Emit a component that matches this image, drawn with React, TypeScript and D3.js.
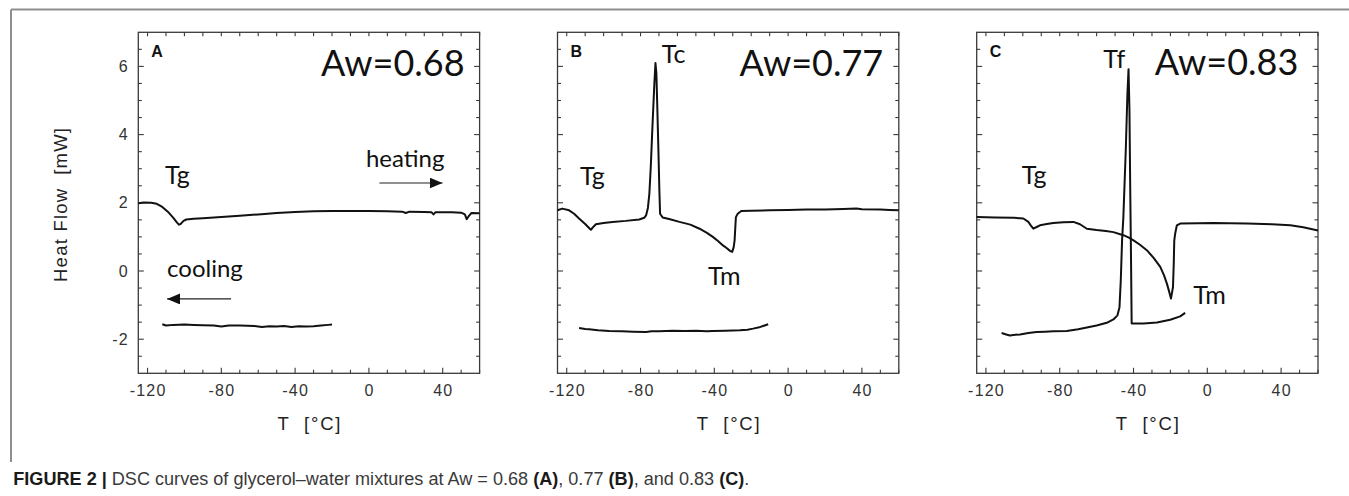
import React from 'react';
import * as d3 from 'd3';

// ---- data (temperature °C, heat flow mW) ----
const panelLetters = ['A', 'B', 'C'];
const awLabels = ['Aw=0.68', 'Aw=0.77', 'Aw=0.83'];
const xTickLabels = [-120, -80, -40, 0, 40];
const yTickLabels = [-2, 0, 2, 4, 6];

const heatingA: [number, number][] = [
  [-125, 1.99], [-122, 2.01], [-118, 2.0], [-115, 1.97], [-112, 1.88], [-109, 1.74],
  [-106, 1.56], [-104, 1.42], [-103, 1.36], [-102, 1.38], [-100.5, 1.47], [-99, 1.51],
  [-95, 1.53], [-90, 1.55], [-80, 1.58], [-70, 1.62], [-60, 1.66], [-50, 1.7],
  [-40, 1.73], [-30, 1.75], [-20, 1.76], [-10, 1.76], [0, 1.76], [10, 1.75],
  [18, 1.74], [20, 1.7], [22, 1.74], [30, 1.73], [34, 1.72], [35, 1.66], [36, 1.72],
  [45, 1.72], [50, 1.71], [52, 1.66], [53, 1.52], [54, 1.6], [55.5, 1.7], [60, 1.69],
];
const coolingA: [number, number][] = [
  [-112, -1.56], [-110, -1.6], [-106, -1.58], [-100, -1.57], [-95, -1.58], [-90, -1.59],
  [-84, -1.6], [-80, -1.63], [-76, -1.6], [-70, -1.6], [-62, -1.61], [-58, -1.64],
  [-54, -1.62], [-50, -1.63], [-46, -1.61], [-42, -1.64], [-38, -1.62], [-34, -1.63],
  [-30, -1.62], [-26, -1.6], [-22, -1.58], [-20, -1.57],
];

const heatingB: [number, number][] = [
  [-125, 1.78], [-122.4, 1.83], [-118.7, 1.78], [-116, 1.68], [-113.3, 1.54], [-110, 1.38],
  [-107.5, 1.24], [-106.9, 1.21], [-105.5, 1.3], [-104.2, 1.37], [-100, 1.41], [-95.2, 1.44],
  [-88, 1.47], [-80.7, 1.51], [-78, 1.56], [-77, 1.63], [-76, 1.85], [-75.2, 2.27],
  [-74.4, 3.1], [-73.7, 4.03], [-72.5, 5.5], [-71.9, 6.1], [-71.4, 5.8], [-71.0, 5.0],
  [-70.3, 3.54], [-69.8, 2.4], [-69.4, 1.68], [-68, 1.57], [-64, 1.52], [-58.9, 1.44],
  [-53, 1.36], [-48, 1.24], [-44, 1.12], [-40.8, 1.0], [-38, 0.88], [-35.3, 0.75],
  [-33, 0.66], [-31.5, 0.59], [-30.3, 0.56], [-29.5, 0.7], [-29, 0.9], [-28.6, 1.3],
  [-28.3, 1.58], [-27.3, 1.68], [-25.4, 1.76], [-20, 1.77], [-10, 1.78], [0, 1.79],
  [10, 1.8], [20, 1.8], [30, 1.82], [37, 1.83], [40, 1.81], [50, 1.8], [55, 1.79], [60, 1.78],
];
const coolingB: [number, number][] = [
  [-113.3, -1.67], [-110, -1.7], [-107.9, -1.71], [-103, -1.74], [-97, -1.76], [-90, -1.77],
  [-84, -1.78], [-77, -1.79], [-74, -1.77], [-70, -1.77], [-62.5, -1.75], [-56, -1.76],
  [-50, -1.75], [-44, -1.77], [-40.8, -1.76], [-34, -1.75], [-26.2, -1.74], [-22, -1.72],
  [-19, -1.69], [-15, -1.64], [-10.8, -1.56],
];

const heatingC: [number, number][] = [
  [-125, 1.58], [-115, 1.57], [-105, 1.56], [-99.7, 1.54], [-97, 1.44], [-95.5, 1.32],
  [-94.3, 1.24], [-92.5, 1.29], [-90.7, 1.34], [-87, 1.38], [-83.5, 1.41], [-78, 1.43],
  [-72.6, 1.44], [-69, 1.37], [-65.3, 1.24], [-60, 1.2], [-55, 1.17], [-50.9, 1.14],
  [-45.5, 1.05], [-42.5, 0.98], [-40, 0.9], [-36.5, 0.77], [-32.8, 0.61], [-29, 0.38],
  [-25.5, 0.12], [-23.5, -0.12], [-21.9, -0.37], [-20.6, -0.62], [-19.7, -0.81],
  [-18.6, -0.47], [-18.2, 0.2], [-17.9, 0.9], [-17.4, 1.1], [-16.5, 1.34], [-14.7, 1.39],
  [-5, 1.4], [3.4, 1.41], [12, 1.4], [21.5, 1.39], [35, 1.37], [45, 1.34], [52, 1.28], [60, 1.19],
];
const coolingC: [number, number][] = [
  [-111.5, -1.82], [-109, -1.86], [-107, -1.89], [-104, -1.87], [-101.5, -1.86], [-97, -1.82],
  [-92.5, -1.79], [-88, -1.78], [-83.5, -1.77], [-76.2, -1.76], [-70, -1.71], [-65.3, -1.66],
  [-60, -1.6], [-54.5, -1.52], [-50.9, -1.42], [-48.7, -1.3], [-47.6, -1.06], [-46.9, -0.27],
  [-46.2, 0.9], [-45.5, 1.58], [-44.2, 3.54], [-43.3, 5.2], [-42.7, 5.92], [-42.2, 4.71],
  [-41.8, 2.5], [-41.4, 0.61], [-41.0, -1.54], [-34.6, -1.54], [-27.3, -1.51], [-20.1, -1.43],
  [-14.7, -1.33], [-12, -1.23],
];

// annotation labels placed in data coordinates: [text, T, mW]
const notesA: [string, number, number][] = [['Tg', -110.5, 2.54]];
const notesB: [string, number, number][] = [['Tg', -112.8, 2.51], ['Tc', -68.5, 6.1], ['Tm', -43.4, -0.42]];
const notesC: [string, number, number][] = [['Tg', -100.6, 2.54], ['Tf', -56.4, 5.94], ['Tm', -7.6, -0.96]];

// direction arrows in panel A
const heatingArrow = { label: 'heating', lt: -1.6, lv: 3.05, from: 5.7, to: 39.9, v: 2.58 };
const coolingArrow = { label: 'cooling', lt: -109.4, lv: -0.18, from: -74.7, to: -109.4, v: -0.82 };

// ---- layout ----
const W = 1349;
const H = 496;
const TOP = 32.3;
const PH = 341;
const PW = 341.3;
const panelLeft = [138.3, 557.5, 976.7];
const awPad = [15, 15.6, 19.7];
const awBase = [43.7, 43.7, 42.7];

const panels = [
  { heating: heatingA, cooling: coolingA, notes: notesA },
  { heating: heatingB, cooling: coolingB, notes: notesB },
  { heating: heatingC, cooling: coolingC, notes: notesC },
];

const annoFont = 'Lato, "Open Sans", "DejaVu Sans", sans-serif';
const axisFont = '"Liberation Sans", Arial, sans-serif';

export default function App() {
  const y = d3.scaleLinear().domain([-3, 7]).range([TOP + PH, TOP]);
  const xMinor = d3.range(-120, 61, 10);
  const yMinor = d3.range(-2.5, 7, 0.5);
  const frameColor = '#3a3a3a';

  return (
    <svg width={W} height={H} style={{ position: 'absolute', left: 0, top: 0, background: '#fff' }}>
      <defs>
        <marker id="arrowHead" markerUnits="userSpaceOnUse" markerWidth={13} markerHeight={11}
          refX={13} refY={5.5} orient="auto">
          <path d="M0,0 L13,5.5 L0,11 z" fill="#111" />
        </marker>
      </defs>

      {/* figure frame */}
      <line x1={11} y1={9.5} x2={W} y2={9.5} stroke="#8e8e8e" strokeWidth={2} />
      <line x1={11} y1={9.5} x2={11} y2={462} stroke="#8e8e8e" strokeWidth={2} />

      {/* y-axis title */}
      <text transform="translate(67,205) rotate(-90)" textAnchor="middle" fontFamily={axisFont}
        fontSize={18.5} fill="#222" textLength={154} lengthAdjust="spacing" style={{ whiteSpace: 'pre' }}>
        Heat Flow  [mW]
      </text>

      {panels.map((p, i) => {
        const x0 = panelLeft[i];
        const x = d3.scaleLinear().domain([-125, 60]).range([x0, x0 + PW]);
        const line = d3.line<[number, number]>().x((d) => x(d[0])).y((d) => y(d[1]));
        const bottom = TOP + PH;
        const right = x0 + PW;
        return (
          <g key={i}>
            {/* frame */}
            <rect x={x0} y={TOP} width={PW} height={PH} fill="none" stroke={frameColor} strokeWidth={1.3} />
            {/* x ticks, bottom and top, pointing inward */}
            {xMinor.map((t) => {
              const major = xTickLabels.includes(t);
              const len = major ? 5.5 : 3.5;
              return (
                <g key={'x' + t}>
                  <line x1={x(t)} x2={x(t)} y1={bottom} y2={bottom - len} stroke={frameColor} strokeWidth={1.1} />
                  <line x1={x(t)} x2={x(t)} y1={TOP} y2={TOP + 4} stroke={frameColor} strokeWidth={1.1} />
                </g>
              );
            })}
            {/* y ticks, left and right, pointing inward */}
            {yMinor.map((v) => {
              const major = yTickLabels.includes(v);
              const len = major ? 5.5 : 3.5;
              return (
                <g key={'y' + v}>
                  <line x1={x0} x2={x0 + len} y1={y(v)} y2={y(v)} stroke={frameColor} strokeWidth={1.1} />
                  <line x1={right} x2={right - len} y1={y(v)} y2={y(v)} stroke={frameColor} strokeWidth={1.1} />
                </g>
              );
            })}
            {/* x tick labels */}
            {xTickLabels.map((t) => (
              <text key={'xl' + t} x={x(t) + 0.6} y={396} textAnchor="middle" fontFamily={axisFont}
                fontSize={16} letterSpacing={1.2} fill="#333">
                {t}
              </text>
            ))}
            {/* y tick labels only on the first panel */}
            {i === 0 &&
              yTickLabels.map((v) => (
                <text key={'yl' + v} x={x0 - 9.5} y={y(v) + 5.5} textAnchor="end" fontFamily={axisFont}
                  fontSize={16} letterSpacing={1.2} fill="#333">
                  {v}
                </text>
              ))}
            {/* x-axis title */}
            <text x={x0 + PW / 2} y={430} textAnchor="middle" fontFamily={axisFont} fontSize={18.5}
              fill="#222" textLength={63} lengthAdjust="spacing" style={{ whiteSpace: 'pre' }}>
              T  [°C]
            </text>

            {/* curves */}
            <path d={line(p.heating) || ''} fill="none" stroke="#111" strokeWidth={2} strokeLinejoin="round" />
            <path d={line(p.cooling) || ''} fill="none" stroke="#111" strokeWidth={2} strokeLinejoin="round" />

            {/* panel letter and water activity */}
            <text x={x0 + 13} y={TOP + 24.4} fontFamily={axisFont} fontWeight="bold" fontSize={16} fill="#111">
              {panelLetters[i]}
            </text>
            <text x={right - awPad[i]} y={TOP + awBase[i]} textAnchor="end" fontFamily={annoFont}
              fontSize={36} fill="#111">
              {awLabels[i]}
            </text>

            {/* transition labels */}
            {p.notes.map(([txt, t, v]) => (
              <text key={txt} x={x(t)} y={y(v)} fontFamily={annoFont} fontSize={25} fill="#111">
                {txt}
              </text>
            ))}

            {i === 0 && (
              <g>
                {[heatingArrow, coolingArrow].map((a) => (
                  <g key={a.label}>
                    <text x={x(a.lt)} y={y(a.lv)} fontFamily={annoFont} fontSize={24} fill="#111">
                      {a.label}
                    </text>
                    <line x1={x(a.from)} x2={x(a.to)} y1={y(a.v)} y2={y(a.v)} stroke="#222"
                      strokeWidth={1.2} markerEnd="url(#arrowHead)" />
                  </g>
                ))}
              </g>
            )}
          </g>
        );
      })}

      {/* caption */}
      <text x={13.3} y={485} fontFamily={axisFont} fontSize={17.5} fill="#3a3a3a" textLength={736}
        lengthAdjust="spacingAndGlyphs">
        <tspan fontWeight="bold" fill="#1a1a1a">FIGURE 2 | </tspan>
        <tspan>DSC curves of glycerol–water mixtures at Aw = 0.68 </tspan>
        <tspan fontWeight="bold" fill="#1a1a1a">(A)</tspan>
        <tspan>, 0.77 </tspan>
        <tspan fontWeight="bold" fill="#1a1a1a">(B)</tspan>
        <tspan>, and 0.83 </tspan>
        <tspan fontWeight="bold" fill="#1a1a1a">(C)</tspan>
        <tspan>.</tspan>
      </text>
    </svg>
  );
}
